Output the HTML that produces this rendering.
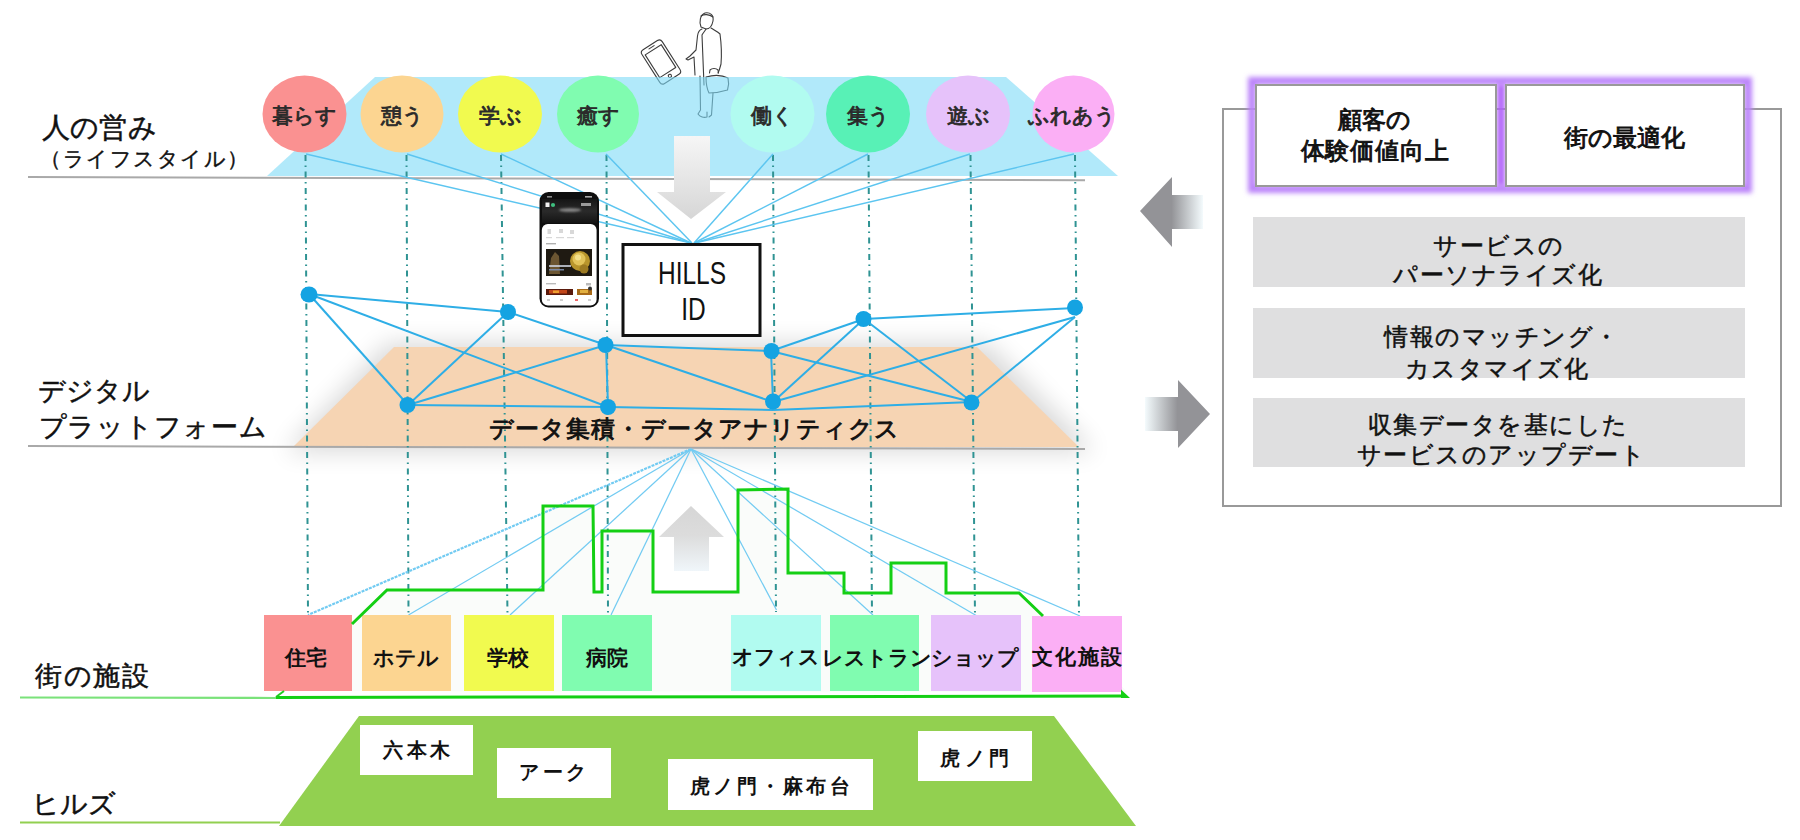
<!DOCTYPE html>
<html lang="ja">
<head>
<meta charset="utf-8">
<style>
html,body{margin:0;padding:0;background:#fff;}
body{width:1800px;height:840px;overflow:hidden;position:relative;font-family:"Liberation Sans",sans-serif;color:#111;}
svg{position:absolute;left:0;top:0;}
text{font-family:"Liberation Sans",sans-serif;}
</style>
</head>
<body>
<svg width="1800" height="840" viewBox="0 0 1800 840">
<defs>
  <filter id="shadow" x="-20%" y="-60%" width="140%" height="220%">
    <feGaussianBlur stdDeviation="12"/>
  </filter>
  <filter id="glow" x="-10%" y="-20%" width="120%" height="140%">
    <feGaussianBlur stdDeviation="2.5"/>
  </filter>
  <linearGradient id="gDown" x1="0" y1="0" x2="0" y2="1">
    <stop offset="0" stop-color="#f6f6f6"/>
    <stop offset="1" stop-color="#d6d6d6"/>
  </linearGradient>
  <linearGradient id="gUp" x1="0" y1="0" x2="0" y2="1">
    <stop offset="0" stop-color="#d6d6d6"/>
    <stop offset="0.45" stop-color="#dcdcdc"/>
    <stop offset="1" stop-color="#f0f6fa"/>
  </linearGradient>
  <linearGradient id="gLeft" x1="0" y1="0" x2="1" y2="0">
    <stop offset="0" stop-color="#939397"/>
    <stop offset="0.5" stop-color="#939397"/>
    <stop offset="1" stop-color="#f4fbfd"/>
  </linearGradient>
  <linearGradient id="gRight" x1="0" y1="0" x2="1" y2="0">
    <stop offset="0" stop-color="#f4fbfd"/>
    <stop offset="0.5" stop-color="#939397"/>
    <stop offset="1" stop-color="#939397"/>
  </linearGradient>
  <linearGradient id="gPhoneTop" x1="0" y1="0" x2="0" y2="1">
    <stop offset="0" stop-color="#151515"/>
    <stop offset="0.5" stop-color="#2a2a2a"/>
    <stop offset="1" stop-color="#141414"/>
  </linearGradient>
  <filter id="soft" x="-50%" y="-200%" width="200%" height="500%">
    <feGaussianBlur stdDeviation="1"/>
  </filter>
</defs>

<!-- person + phone outline -->
<g fill="none" stroke="#3c3c3c" stroke-width="1.1" stroke-linejoin="round" stroke-linecap="round">
  <g transform="translate(661 62) rotate(-32.6)">
    <rect x="-12" y="-20" width="24" height="40" rx="3.5"/>
    <rect x="-9.5" y="-14.5" width="19" height="27"/>
    <line x1="-3" y1="-17.5" x2="3" y2="-17.5"/>
    <circle cx="0" cy="16.5" r="1.6"/>
  </g>
  <path d="M701 27 C699 22 700 15 705 13 C710 12 714 15 713 21 C712 26 709 29 706 29 Z"/>
  <path d="M701 16 C704 14 709 14 713 17"/>
  <path d="M702 29 C699 30 698 32 697.5 36 L696 50 L690 56 L686 59 L688 60 L694 57 L695 75"/>
  <path d="M706 29 C705 31 703 33 702 35 L704 85"/>
  <path d="M711 28 C714 30 718 32 720 34 C721.5 45 721.5 58 721 64 C720 68 719 71 718 73"/>
  <path d="M700 76 L700.5 110 L698 114 C700 117 704 118 707 117 L707 112"/>
  <path d="M713 93 L711.5 115 L709 117"/>
  <path d="M709.5 73 L710 70 C712 68 716 68 718 70 L718.5 73"/>
  <path d="M706 77 C713 75 722 75 728 78 C729 82 728.5 87 727.5 90 C721 92 714 93 709 93 C707 89 706 83 706 77 Z"/>
</g>

<!-- ===== top blue band ===== -->
<polygon points="375,77 1006,77 1118,176 267,176" fill="rgb(125,218,247)" fill-opacity="0.6"/>

<!-- ===== orange trapezoid with shadow ===== -->
<polygon points="388,343 987,343 1095,452 285,452" fill="#000" opacity="0.15" filter="url(#shadow)"/>
<polygon points="394,347 977,347 1079,447 293,447" fill="#f6d4b3"/>

<!-- gray divider lines -->
<line x1="28" y1="177" x2="1085" y2="180.3" stroke="#a9a9a9" stroke-width="2"/>
<line x1="28" y1="446" x2="1085" y2="449" stroke="#a9a9a9" stroke-width="2"/>

<!-- down arrow -->
<polygon points="674,136 710,136 710,192 726,192 691,219 657,192 674,192" fill="url(#gDown)"/>
<!-- up arrow -->
<polygon points="691,506 724,537 709,537 709,571 674,571 674,537 659,537" fill="url(#gUp)"/>

<!-- faint fill under skyline -->
<polygon points="283,691 352,624 387,590 543,590 543,506 593,506 594,592 602,592 602,531 653,531 653,592 738,592 738,490 788,489 788,573 844,573 844,593 891,593 891,563 946,563 946,593 1019,593 1043,616 1128,692" fill="#fafcfa"/>

<!-- dashed verticals -->
<g stroke="#2f9393" stroke-width="2" stroke-dasharray="6 4.5 1.5 4.5" fill="none">
  <line x1="305.5" y1="155" x2="308" y2="615"/>
  <line x1="406.5" y1="155" x2="408.5" y2="615"/>
  <line x1="501" y1="155" x2="507.5" y2="615"/>
  <line x1="606.5" y1="155" x2="608" y2="615"/>
  <line x1="773" y1="155" x2="776" y2="612"/>
  <line x1="868.5" y1="155" x2="872" y2="615"/>
  <line x1="970.5" y1="155" x2="975" y2="616"/>
  <line x1="1075" y1="155" x2="1079" y2="616"/>
</g>

<!-- converging lines top -->
<g stroke="#5cc5f0" stroke-width="1.45" fill="none">
  <line x1="306" y1="154" x2="691" y2="243"/>
  <line x1="407" y1="154" x2="691" y2="243"/>
  <line x1="501" y1="154" x2="691" y2="243"/>
  <line x1="606" y1="154" x2="692" y2="243"/>
  <line x1="773" y1="154" x2="694" y2="243"/>
  <line x1="868" y1="154" x2="694" y2="243"/>
  <line x1="970" y1="154" x2="695" y2="243"/>
  <line x1="1074" y1="154" x2="695" y2="243"/>
</g>
<!-- converging lines bottom -->
<g stroke="#72cbf2" stroke-width="1.25" fill="none">
  <line x1="691" y1="449" x2="308" y2="615" stroke-width="2.2" stroke-dasharray="3 1"/>
  <line x1="691" y1="449" x2="408.5" y2="615"/>
  <line x1="691" y1="449" x2="510" y2="615"/>
  <line x1="691" y1="449" x2="611" y2="615"/>
  <line x1="691" y1="449" x2="776.5" y2="610"/>
  <line x1="691" y1="449" x2="873" y2="615"/>
  <line x1="691" y1="449" x2="977" y2="616"/>
  <line x1="691" y1="449" x2="1080" y2="616"/>
</g>

<!-- network edges -->
<g stroke="#2eaee6" stroke-width="2" fill="none">
  <line x1="309" y1="294" x2="508" y2="312"/>
  <line x1="309" y1="294" x2="408" y2="405"/>
  <line x1="309" y1="294" x2="608" y2="407"/>
  <line x1="508" y1="312" x2="408" y2="405"/>
  <line x1="508" y1="312" x2="606" y2="345"/>
  <line x1="408" y1="405" x2="606" y2="345"/>
  <line x1="408" y1="405" x2="608" y2="407"/>
  <line x1="606" y1="345" x2="608" y2="407"/>
  <line x1="606" y1="345" x2="771" y2="351"/>
  <line x1="606" y1="345" x2="773" y2="402"/>
  <line x1="608" y1="407" x2="773" y2="410"/>
  <line x1="773" y1="410" x2="972" y2="402"/>
  <line x1="771" y1="351" x2="773" y2="402"/>
  <line x1="771" y1="351" x2="864" y2="319"/>
  <line x1="771" y1="351" x2="972" y2="402"/>
  <line x1="773" y1="402" x2="864" y2="319"/>
  <line x1="773" y1="402" x2="1075" y2="317"/>
  <line x1="864" y1="319" x2="1075" y2="308"/>
  <line x1="864" y1="319" x2="972" y2="402"/>
  <line x1="972" y1="402" x2="1075" y2="317"/>
</g>
<g fill="#14a3e2">
  <ellipse cx="309" cy="294.5" rx="8.5" ry="8"/>
  <ellipse cx="508" cy="312" rx="8" ry="8"/>
  <ellipse cx="605.5" cy="345" rx="8" ry="8"/>
  <ellipse cx="407.5" cy="405" rx="8" ry="8"/>
  <ellipse cx="608" cy="407" rx="8" ry="8"/>
  <ellipse cx="771.5" cy="351" rx="8" ry="8"/>
  <ellipse cx="773" cy="401.5" rx="8" ry="8"/>
  <ellipse cx="863.5" cy="319" rx="8" ry="8"/>
  <ellipse cx="971.5" cy="402.5" rx="8" ry="8"/>
  <ellipse cx="1075" cy="307.5" rx="8" ry="8"/>
</g>

<!-- circles -->
<g>
  <ellipse cx="304.5" cy="114" rx="42" ry="38.5" fill="#fa9191"/>
  <ellipse cx="402" cy="114" rx="41.5" ry="38.5" fill="#fcd591"/>
  <ellipse cx="500" cy="114" rx="42" ry="38.5" fill="#f1fa4f"/>
  <ellipse cx="598" cy="114" rx="41" ry="38.5" fill="#80fcb0"/>
  <ellipse cx="772.5" cy="114" rx="42" ry="38.5" fill="#b1fbf0"/>
  <ellipse cx="868" cy="114" rx="42" ry="38.5" fill="#58f1b6"/>
  <ellipse cx="968" cy="114" rx="42" ry="38.5" fill="#e6c2fa"/>
  <ellipse cx="1073.5" cy="114" rx="41" ry="38.5" fill="#fbaff5"/>
</g>
<g font-size="21" fill="#2a2a2a" stroke="#2a2a2a" stroke-width="0.85" text-anchor="middle">
  <text x="304.5" y="123">暮らす</text>
  <text x="402" y="123">憩う</text>
  <text x="500" y="123">学ぶ</text>
  <text x="598" y="123">癒す</text>
  <text x="772.5" y="123">働く</text>
  <text x="868" y="123">集う</text>
  <text x="968" y="123">遊ぶ</text>
  <text x="1072" y="123">ふれあう</text>
</g>


<!-- smartphone -->
<g>
  <rect x="539.5" y="192" width="59.5" height="115.5" rx="9" fill="#0e0e0e"/>
  <rect x="542" y="199" width="55" height="24" fill="url(#gPhoneTop)"/>
  <ellipse cx="570" cy="210" rx="11" ry="1.8" fill="#8a8a8a" filter="url(#soft)"/>
  <rect x="541.8" y="224" width="54.8" height="81.5" rx="6" fill="#fff"/>
  <rect x="545.5" y="202.5" width="4" height="4.5" fill="#f2f2f2"/>
  <circle cx="553" cy="205" r="2.1" fill="#3fbf7f"/>
  <rect x="581" y="203" width="10" height="3" fill="#9a9a9a"/>
  <rect x="547" y="196" width="5" height="1.6" fill="#8a8a8a"/>
  <rect x="585" y="196" width="7" height="1.6" fill="#aaa"/>
  <g fill="#d8d8d8">
    <rect x="547.5" y="229" width="3.5" height="5"/><rect x="559" y="229" width="4" height="4"/><rect x="570" y="230" width="4" height="4"/>
    <rect x="546" y="237" width="6" height="1.2"/><rect x="556" y="237" width="8" height="1.2"/><rect x="567" y="237" width="7" height="1.2"/>
  </g>
  <rect x="546" y="243" width="10" height="1.4" fill="#b0b0b0"/>
  <rect x="546" y="249" width="46" height="27" fill="#1f1a12"/>
  <path d="M549 274 L551 258 L555 252 L559 256 L560 274 Z" fill="#7a6238" opacity="0.85"/>
  <circle cx="580" cy="261" r="10" fill="#b8952c"/>
  <circle cx="579" cy="259" r="6.5" fill="#e2c35a"/>
  <circle cx="578" cy="257.5" r="3" fill="#f3e08c"/>
  <circle cx="584" cy="269" r="4.5" fill="#9c7a22"/>
  <rect x="549" y="265" width="22" height="2" fill="#d0d6e4" opacity="0.8"/>
  <rect x="549" y="269" width="15" height="1.5" fill="#7d8fb0" opacity="0.9"/>
  <rect x="546" y="283" width="10" height="1.4" fill="#bbb"/>
  <rect x="586" y="283" width="5" height="2.5" fill="#bbb"/>
  <rect x="546" y="289" width="27" height="6" fill="#5a1a0c"/>
  <rect x="549" y="290" width="18" height="3.5" fill="#c2461a"/>
  <rect x="553" y="290.5" width="6" height="2.5" fill="#f0a030"/>
  <rect x="577" y="289" width="15" height="6" fill="#a86a18"/>
  <rect x="580" y="290" width="8" height="3" fill="#e2b040"/>
  <circle cx="590" cy="288.5" r="2" fill="#333"/>
  <g fill="#cfcfcf"><rect x="547" y="299" width="3" height="2"/><rect x="560" y="299" width="3" height="2"/><rect x="575" y="299" width="3" height="2" fill="#e66"/><rect x="588" y="299" width="3" height="2"/></g>
</g>

<!-- HILLS ID box -->
<rect x="623" y="244.5" width="137" height="91" fill="#fff" stroke="#111" stroke-width="3"/>
<g font-size="31" fill="#111" text-anchor="middle">
  <text x="692" y="284" transform="translate(692 0) scale(0.79 1) translate(-692 0)">HILLS</text>
  <text x="693.5" y="319.7" transform="translate(693.5 0) scale(0.79 1) translate(-693.5 0)">ID</text>
</g>

<!-- facility boxes -->
<g>
  <rect x="264" y="615" width="88" height="76" fill="#fa9191"/>
  <rect x="362" y="615" width="89" height="76" fill="#fcd591"/>
  <rect x="464" y="615" width="90" height="76" fill="#f1fa4f"/>
  <rect x="562" y="615" width="90" height="76" fill="#80fcb0"/>
  <rect x="731" y="615" width="90" height="76" fill="#b1fbf0"/>
  <rect x="830" y="615" width="89" height="76" fill="#80fcb0"/>
  <rect x="931" y="615" width="90" height="76" fill="#e6c2fa"/>
  <rect x="1032" y="616" width="90" height="76" fill="#fbaff5"/>
</g>
<g font-size="21" font-weight="bold" fill="#111" text-anchor="middle">
  <text x="306" y="665">住宅</text>
  <text x="406" y="665">ホテル</text>
  <text x="508" y="665">学校</text>
  <text x="607" y="665">病院</text>
  <text x="776" y="664" letter-spacing="0">オフィス</text>
  <text x="877" y="665">レストラン</text>
  <text x="975" y="665">ショップ</text>
  <text x="1078" y="664" letter-spacing="2">文化施設</text>
</g>

<!-- skyline -->
<polyline points="352,624 387,590 543,590 543,506 593,506 594,592 602,592 602,531 653,531 653,592 738,592 738,490 788,489 788,573 844,573 844,593 891,593 891,563 946,563 946,593 1019,593 1043,616" fill="none" stroke="#14cf14" stroke-width="3" stroke-linejoin="miter"/>
<!-- facility baseline -->
<line x1="20" y1="697.5" x2="276" y2="698" stroke="#7ae27a" stroke-width="2.2"/>
<polyline points="276,697 284,691" stroke="#22cc22" stroke-width="2" fill="none"/>
<line x1="276" y1="697.5" x2="1124" y2="696" stroke="#14cf14" stroke-width="3"/>
<polygon points="1121,689.5 1130,698 1121,698" fill="#14cf14"/>

<!-- hills trapezoid -->
<line x1="20" y1="822.5" x2="280" y2="822.5" stroke="#92d050" stroke-width="2"/>
<polygon points="359,716 1054,716 1136,826 279,826" fill="#92d050"/>
<g fill="#fff">
  <rect x="360" y="725" width="113" height="50"/>
  <rect x="497" y="748" width="114" height="50"/>
  <rect x="668" y="759" width="205" height="51"/>
  <rect x="918" y="731" width="114" height="50"/>
</g>
<g font-size="20" font-weight="bold" fill="#111" text-anchor="middle">
  <text x="418.5" y="757" letter-spacing="3.5">六本木</text>
  <text x="554.5" y="779" letter-spacing="3.5">アーク</text>
  <text x="771.5" y="792.5" letter-spacing="3.3">虎ノ門・麻布台</text>
  <text x="977" y="765" letter-spacing="4.5">虎ノ門</text>
</g>

<!-- left labels -->
<g fill="#111" font-size="27" stroke="#111" stroke-width="0.5">
  <text x="42" y="137" font-size="27.5" letter-spacing="0.2">人の営み</text>
  <text x="38" y="399.5">デジタル</text>
  <text x="38.5" y="436" letter-spacing="0.8">プラットフォーム</text>
  <text x="35" y="684.5" letter-spacing="1.7">街の施設</text>
  <text x="32" y="812.5">ヒルズ</text>
</g>
<text x="40" y="166" font-size="21" fill="#111" letter-spacing="1.5" stroke="#111" stroke-width="0.4">（ライフスタイル）</text>

<!-- data analytics label -->
<text x="489" y="436.5" font-size="24" fill="#111" letter-spacing="1" stroke="#111" stroke-width="0.9">データ集積・データアナリティクス</text>

<!-- ===== right panel ===== -->
<rect x="1223" y="109" width="558" height="397" fill="#fff" stroke="#999999" stroke-width="2"/>
<!-- purple glow -->
<rect x="1252" y="81" width="496" height="108" fill="none" stroke="#bb84fa" stroke-width="8" filter="url(#glow)"/>
<rect x="1497" y="84" width="8" height="102" fill="#b060fa" filter="url(#glow)"/>
<rect x="1256" y="85" width="240" height="101" fill="#fff" stroke="#999999" stroke-width="2"/>
<rect x="1506" y="85" width="238" height="101" fill="#fff" stroke="#999999" stroke-width="2"/>
<g font-size="24" fill="#111" stroke="#111" stroke-width="0.95" text-anchor="middle">
  <text x="1374" y="128">顧客の</text>
  <text x="1375" y="159" letter-spacing="0.8">体験価値向上</text>
  <text x="1624.5" y="146">街の最適化</text>
</g>
<g fill="#dfdfe0">
  <rect x="1253" y="217" width="492" height="70"/>
  <rect x="1253" y="308" width="492" height="70"/>
  <rect x="1253" y="398" width="492" height="69"/>
</g>
<g font-size="24" fill="#111" text-anchor="middle" letter-spacing="1.5" stroke="#111" stroke-width="0.5">
  <text x="1499" y="253.5">サービスの</text>
  <text x="1498" y="283">パーソナライズ化</text>
  <text x="1502" y="345">情報のマッチング・</text>
  <text x="1497" y="377">カスタマイズ化</text>
  <text x="1498" y="433">収集データを基にした</text>
  <text x="1501.5" y="463">サービスのアップデート</text>
</g>
<!-- side arrows -->
<polygon points="1140,211 1172,177 1172,195 1203,195 1203,229 1172,229 1172,247" fill="url(#gLeft)"/>
<polygon points="1210,414 1178,380 1178,397 1145,397 1145,431 1178,431 1178,448" fill="url(#gRight)"/>

</svg>
</body>
</html>
